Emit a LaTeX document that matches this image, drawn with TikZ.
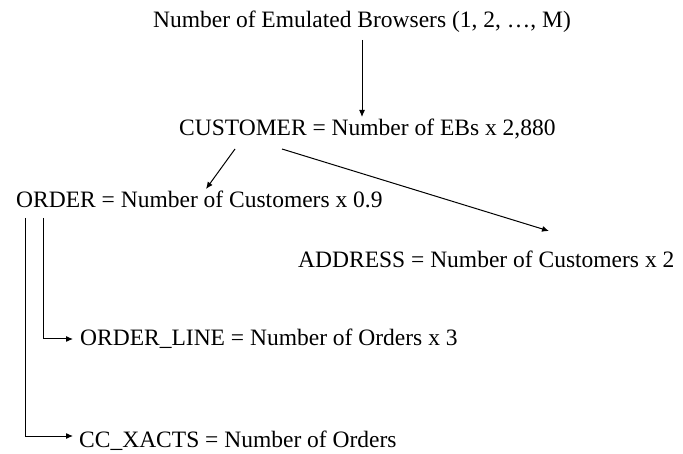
\documentclass[tikz,border=0pt]{standalone}
\usepackage{fontspec}
\setmainfont{Liberation Serif}
\usetikzlibrary{arrows.meta}
\begin{document}
\begin{tikzpicture}[x=1pt,y=-1pt,
  lbl/.style={anchor=base west,inner sep=0pt,font=\fontsize{23.5}{28}\selectfont},
  arr/.style={line width=1pt,-{Latex[length=7pt,width=6pt]}}]
\useasboundingbox (0,0) rectangle (683,454);

% table labels
\node[lbl,anchor=base] (top) at (362,28) {Number of Emulated Browsers (1, 2, …, M)};
\node[lbl] (cust)  at (179,136) {CUSTOMER = Number of EBs x 2,880};
\node[lbl] (order) at (16,208)  {ORDER = Number of Customers x 0.9};
\node[lbl] (addr)  at (298,268) {ADDRESS = Number of Customers x 2};
\node[lbl] (oline) at (80,346)  {ORDER\_LINE = Number of Orders x 3};
\node[lbl] (cc)    at (79,447)  {CC\_XACTS = Number of Orders};

% connector end points
\coordinate (topout)    at (362,40);
\coordinate (custin)    at (362,117);
\coordinate (custoutA)  at (235,149);
\coordinate (orderin)   at (206,189);
\coordinate (custoutB)  at (282,149);
\coordinate (addrin)    at (549,231);
\coordinate (orderoutA) at (43,218);
\coordinate (olinein)   at (73,339);
\coordinate (orderoutB) at (25,218);
\coordinate (ccin)      at (73,436);

\draw[arr] (topout) -- (custin);
\draw[arr] (custoutA) -- (orderin);
\draw[arr] (custoutB) -- (addrin);
\draw[arr] (orderoutA) |- (olinein);
\draw[arr] (orderoutB) |- (ccin);
\end{tikzpicture}
\end{document}
